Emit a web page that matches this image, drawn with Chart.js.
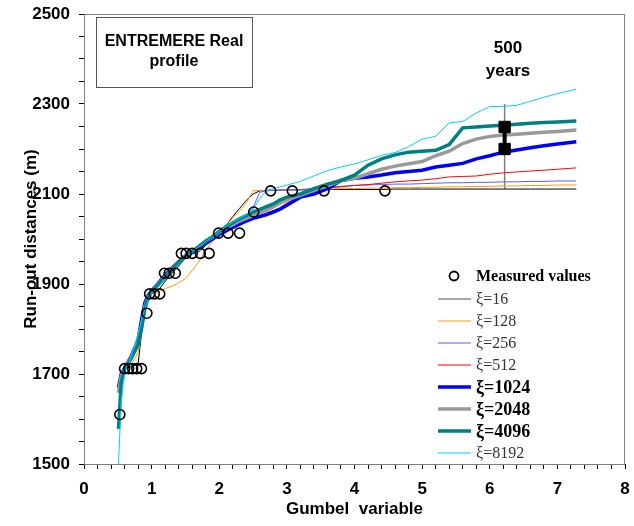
<!DOCTYPE html>
<html>
<head>
<meta charset="utf-8">
<script src="https://cdn.jsdelivr.net/npm/chart.js@4.4.0/dist/chart.umd.min.js"></script>
<style>
  html, body { margin: 0; padding: 0; background: #fff; }
  #wrap { width: 634px; height: 526px; }
</style>
</head>
<body>
<div id="wrap"><canvas id="runoutChart" width="634" height="526"></canvas></div>
<script>
// Gumbel variable positions shared by the simulated curves
var gumbelX = [0.51, 0.55, 0.60, 0.70, 0.80, 0.85, 0.90, 0.95,
  1.00, 1.10, 1.20, 1.30, 1.40, 1.50, 1.60, 1.70, 1.80, 1.90,
  2.00, 2.10, 2.20, 2.30, 2.40, 2.50, 2.60, 2.70, 2.80, 2.90,
  3.00, 3.20, 3.40, 3.60, 3.80, 4.00, 4.20, 4.40, 4.60, 4.80,
  5.00, 5.20, 5.40, 5.60, 5.80, 6.00, 6.20, 6.40, 6.60, 6.80, 7.00, 7.28];

// run-out distances (m) for each xi
var xi16 = [null, 1700, 1712, 1716, 1722, 1790, 1840, 1868,
  1880, 1886, 1906, 1924, 1940, 1958, 1968, 1972, 1986, 2004,
  2014, 2030, 2050, 2068, 2086, 2100, 2107, 2108, 2108, 2109,
  2109, 2109, 2110, 2110, 2110, 2110, 2110, 2110, 2111, 2111,
  2111, 2111, 2111, 2111, 2111, 2111, 2111, 2111, 2111, 2111, 2111, 2111];
var xi128 = [null, 1705, 1712, 1722, 1748, 1790, 1848, 1870,
  1878, 1882, 1890, 1895, 1903, 1912, 1930, 1950, 1975, 1995,
  2012, 2030, 2047, 2062, 2080, 2107, 2108, 2108, 2109, 2109,
  2110, 2110, 2111, 2111, 2112, 2112, 2113, 2113, 2114, 2114,
  2115, 2115, 2116, 2116, 2117, 2117, 2118, 2118, 2119, 2119, 2120, 2120];
var xi256 = [null, 1695, 1712, 1738, 1772, 1815, 1855, 1874,
  1884, 1900, 1918, 1933, 1950, 1962, 1972, 1982, 1992, 2002,
  2012, 2022, 2032, 2040, 2050, 2070, 2104, 2107, 2108, 2108,
  2109, 2110, 2112, 2115, 2117, 2119, 2120, 2121, 2122, 2122,
  2123, 2124, 2125, 2125, 2126, 2126, 2127, 2127, 2128, 2128, 2129, 2129];
var xi512 = [null, 1698, 1712, 1740, 1774, 1818, 1856, 1874,
  1884, 1901, 1918, 1933, 1949, 1961, 1970, 1980, 1990, 2000,
  2010, 2018, 2026, 2034, 2041, 2047, 2052, 2058, 2063, 2070,
  2080, 2095, 2105, 2113, 2116, 2119, 2121, 2124, 2127, 2129,
  2131, 2134, 2138, 2139, 2140, 2144, 2147, 2149, 2151, 2153, 2155, 2158];
var xi1024 = [1670, 1700, 1712, 1740, 1775, 1820, 1858, 1875,
  1885, 1902, 1920, 1935, 1950, 1962, 1970, 1980, 1990, 2000,
  2010, 2018, 2026, 2033, 2040, 2046, 2050, 2054, 2060, 2066,
  2075, 2093, 2100, 2112, 2130, 2135, 2138, 2142, 2147, 2150,
  2153, 2160, 2164, 2168, 2178, 2185, 2193, 2198, 2203, 2207, 2211, 2216];
var xi2048 = [1658, 1695, 1712, 1738, 1770, 1805, 1850, 1872,
  1884, 1900, 1917, 1932, 1950, 1963, 1973, 1984, 1995, 2004,
  2015, 2024, 2032, 2040, 2046, 2052, 2058, 2064, 2072, 2080,
  2087, 2097, 2108, 2118, 2130, 2135, 2145, 2155, 2162, 2167,
  2172, 2185, 2195, 2212, 2222, 2228, 2231, 2233, 2235, 2237, 2239, 2242];
var xi4096 = [1578, 1680, 1712, 1735, 1765, 1800, 1845, 1870,
  1882, 1898, 1915, 1930, 1948, 1962, 1972, 1983, 1995, 2005,
  2017, 2027, 2036, 2045, 2052, 2060, 2066, 2072, 2078, 2087,
  2093, 2100, 2112, 2122, 2130, 2142, 2164, 2178, 2187, 2193,
  2195, 2197, 2210, 2247, 2249, 2251, 2253, 2255, 2257, 2259, 2260, 2262];
var xi8192 = [1500, 1640, 1700, 1740, 1790, 1820, 1845, 1865,
  1880, 1895, 1912, 1928, 1945, 1960, 1972, 1983, 1995, 2005,
  2017, 2028, 2038, 2046, 2054, 2065, 2090, 2108, 2112, 2116,
  2120, 2128, 2140, 2152, 2160, 2167, 2176, 2186, 2192, 2205,
  2222, 2228, 2258, 2261, 2280, 2294, 2295, 2297, 2306, 2315, 2323, 2333];

var measuredX = [0.53, 0.60, 0.66, 0.72, 0.78, 0.85, 0.93, 0.97, 1.04, 1.12,
  1.19, 1.26, 1.35, 1.44, 1.51, 1.60, 1.72, 1.85, 1.99, 2.13, 2.30, 2.51,
  2.76, 3.08, 3.55, 4.45];
var measuredY = [1610, 1712, 1712, 1712, 1712, 1712, 1835, 1878, 1878, 1878,
  1924, 1924, 1924, 1968, 1968, 1968, 1968, 1968, 2013, 2013, 2013, 2060,
  2107, 2107, 2107, 2107];

// 500 years return period
var returnX = 6.22;
var returnLineY = [2300, 2111];
var returnBoundsY = [2249, 2200];

var seriesNames = ["ξ=16", "ξ=128", "ξ=256", "ξ=512", "ξ=1024", "ξ=2048", "ξ=4096", "ξ=8192"];
var seriesValues = [xi16, xi128, xi256, xi512, xi1024, xi2048, xi4096, xi8192];
var seriesColors = ["#000000", "#ff9900", "#5a5aff", "#ff0000", "#0000ff", "#999999", "#008080", "#00ccff"];
var seriesBold = [false, false, false, false, true, true, true, false];

function toPoints(ys) {
  return gumbelX.map(function (x, i) { return { x: x, y: ys[i] }; })
    .filter(function (p) { return p.y !== null; });
}

var datasets = [
  {
    label: "Measured values",
    data: measuredX.map(function (x, i) { return { x: x, y: measuredY[i] }; }),
    showLine: false,
    pointStyle: "circle",
    pointRadius: 5,
    borderColor: "#000",
    borderWidth: 1.6,
    backgroundColor: "rgba(0,0,0,0)",
    order: 0,
  },
  {
    label: "500 years bounds",
    data: returnBoundsY.map(function (y) { return { x: returnX, y: y }; }),
    showLine: true,
    borderColor: "#000",
    borderWidth: 4,
    pointStyle: "rect",
    pointRadius: 8,
    backgroundColor: "#000",
    pointBorderWidth: 1,
    order: 1,
  },
];

seriesNames.forEach(function (name, i) {
  datasets.push({
    label: name,
    data: toPoints(seriesValues[i]),
    showLine: true,
    borderColor: seriesColors[i],
    borderWidth: seriesBold[i] ? 3.5 : 1,
    pointRadius: 0,
    tension: 0,
    order: 10 - i,
  });
});

datasets.push({
  label: "500 years",
  data: returnLineY.map(function (y) { return { x: returnX, y: y }; }),
  showLine: true,
  borderColor: "#808080",
  borderWidth: 1.5,
  pointRadius: 0,
  order: 20,
});

var framePlugin = {
  id: "frame",
  beforeDatasetsDraw: function (chart) {
    var a = chart.chartArea;
    var c = chart.ctx;
    c.save();
    c.strokeStyle = "#808080";
    c.lineWidth = 1;
    c.strokeRect(a.left + 0.5, a.top + 0.5, a.right - a.left - 1, a.bottom - a.top);
    c.restore();
  },
  afterDraw: function (chart) {
    var c = chart.ctx;
    c.save();
    // title box
    c.fillStyle = "#fff";
    c.fillRect(96, 17, 156, 70);
    c.strokeStyle = "#555";
    c.lineWidth = 1;
    c.strokeRect(96.5, 17.5, 156, 70);
    c.fillStyle = "#000";
    c.textAlign = "center";
    c.textBaseline = "middle";
    c.font = "bold 16px 'Liberation Sans', Arial, sans-serif";
    c.fillText("ENTREMERE Real", 174, 42);
    c.fillText("profile", 174, 62);

    // 500 years label
    c.font = "bold 17px 'Liberation Sans', Arial, sans-serif";
    c.fillText("500", 508, 48);
    c.fillText("years", 508, 71);

    // legend
    c.textAlign = "left";
    c.beginPath();
    c.arc(454, 276, 4.5, 0, 2 * Math.PI);
    c.lineWidth = 1.8;
    c.strokeStyle = "#000";
    c.stroke();
    c.font = "bold 16px 'Liberation Serif', 'Times New Roman', serif";
    c.fillText("Measured values", 476, 277);
    seriesNames.forEach(function (name, i) {
      var y = 299 + i * 22;
      c.beginPath();
      c.moveTo(438, y);
      c.lineTo(471, y);
      c.lineWidth = seriesBold[i] ? 3.5 : 1.2;
      c.strokeStyle = i === 0 ? "#555" : seriesColors[i];
      c.stroke();
      c.fillStyle = seriesBold[i] ? "#000" : "#333";
      c.font = seriesBold[i]
        ? "bold 18px 'Liberation Serif', 'Times New Roman', serif"
        : "16px 'Liberation Serif', 'Times New Roman', serif";
      c.fillText(name, 476, y + 1);
    });
    c.restore();
  },
};

var tickFont = { family: "'Liberation Sans', Arial, sans-serif", size: 17, weight: "bold" };

var ctx = document.getElementById("runoutChart").getContext("2d");
var chart = new Chart(ctx, {
  type: "scatter",
  data: { datasets: datasets },
  plugins: [framePlugin],
  options: {
    responsive: false,
    animation: false,
    devicePixelRatio: 1,
    layout: { padding: { top: 14, right: 5, left: 0, bottom: 0 } },
    plugins: {
      legend: { display: false },
      tooltip: { enabled: false },
    },
    scales: {
      x: {
        type: "linear",
        min: 0,
        max: 8,
        border: { color: "#000", width: 1 },
        grid: { drawOnChartArea: false, drawTicks: true, tickLength: 5, color: "#000" },
        ticks: {
          stepSize: 0.2,
          autoSkip: false,
          maxRotation: 0,
          padding: 10,
          color: "#000",
          font: tickFont,
          callback: function (v) {
            return Math.abs(v - Math.round(v)) < 1e-6 ? String(Math.round(v)) : "";
          },
        },
        title: {
          display: true,
          text: "Gumbel  variable",
          color: "#000",
          font: { family: "'Liberation Sans', Arial, sans-serif", size: 17, weight: "bold" },
          padding: { top: 0, bottom: 6 },
        },
        afterFit: function (scale) {
          scale.height = 62;
          scale.paddingLeft = 0;
          scale.paddingRight = 0;
        },
      },
      y: {
        type: "linear",
        min: 1500,
        max: 2500,
        border: { color: "#000", width: 1 },
        grid: { drawOnChartArea: false, drawTicks: true, tickLength: 5, color: "#000" },
        ticks: {
          stepSize: 50,
          autoSkip: false,
          padding: 9,
          color: "#000",
          font: tickFont,
          callback: function (v) {
            return v % 200 === 100 ? String(v) : "";
          },
        },
        title: {
          display: true,
          text: "Run-out distances (m)",
          color: "#000",
          font: { family: "'Liberation Sans', Arial, sans-serif", size: 17, weight: "bold" },
          padding: { top: 21, bottom: 0 },
        },
        afterFit: function (scale) {
          scale.width = 84;
          scale.paddingTop = 0;
          scale.paddingBottom = 0;
        },
      },
    },
  },
});
</script>
</body>
</html>
